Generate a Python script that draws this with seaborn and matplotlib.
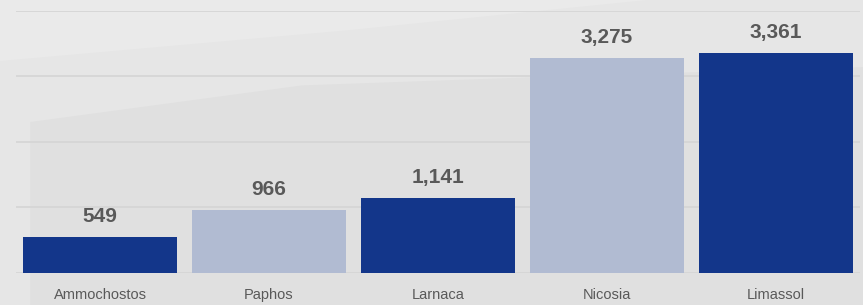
import pandas as pd
import matplotlib
matplotlib.use("Agg")
import matplotlib.pyplot as plt
import seaborn as sns

# Data
districts = ["Ammochostos", "Paphos", "Larnaca", "Nicosia", "Limassol"]
counts = [549, 966, 1141, 3275, 3361]
bar_colors = ["#13368a", "#b1bbd2", "#13368a", "#b1bbd2", "#13368a"]

df = pd.DataFrame({"district": districts, "count": counts})

sns.set_style("white")
plt.rcParams["font.family"] = ["Liberation Sans", "DejaVu Sans"]

bg = "#e6e6e6"
fig = plt.figure(figsize=(8.63, 3.05), dpi=100, facecolor=bg)
ax = fig.add_axes([0.018, 0.105, 0.979, 0.86])

# faint watermark-like shapes in the background
fig.patches.append(plt.Polygon([[0.035, 0.0], [0.035, 0.6], [0.35, 0.72], [0.65, 0.75], [1.0, 0.78], [1.0, 0.0]],
                               closed=True, transform=fig.transFigure, facecolor="#e0e0e0",
                               edgecolor="none", zorder=-1))
fig.patches.append(plt.Polygon([[0.0, 1.0], [0.0, 0.8], [0.4, 0.9], [0.75, 1.0]],
                               closed=True, transform=fig.transFigure, facecolor="#eaeaea",
                               edgecolor="none", zorder=-1))
ax.patch.set_alpha(0)

sns.barplot(data=df, x="district", y="count", hue="district", palette=bar_colors,
            legend=False, width=0.91, saturation=1, linewidth=0, ax=ax, zorder=3)

for i, v in enumerate(counts):
    ax.text(i, v + 225, f"{v:,}", ha="center", va="baseline", fontsize=15,
            fontweight="bold", color="#595959")

ax.set_ylim(0, 4000)
ax.set_yticks([0, 1000, 2000, 3000, 4000])
ax.yaxis.grid(True, color="#d4d4d4", linewidth=1.2, zorder=0)
ax.set_axisbelow(True)
ax.set_yticklabels([])
ax.tick_params(axis="y", length=0)
ax.tick_params(axis="x", length=0, pad=11, labelsize=10.5, labelcolor="#595959")
ax.set_xlabel("")
ax.set_ylabel("")
sns.despine(ax=ax, left=True, bottom=True)

plt.savefig("out.png", dpi=100, facecolor=bg)
